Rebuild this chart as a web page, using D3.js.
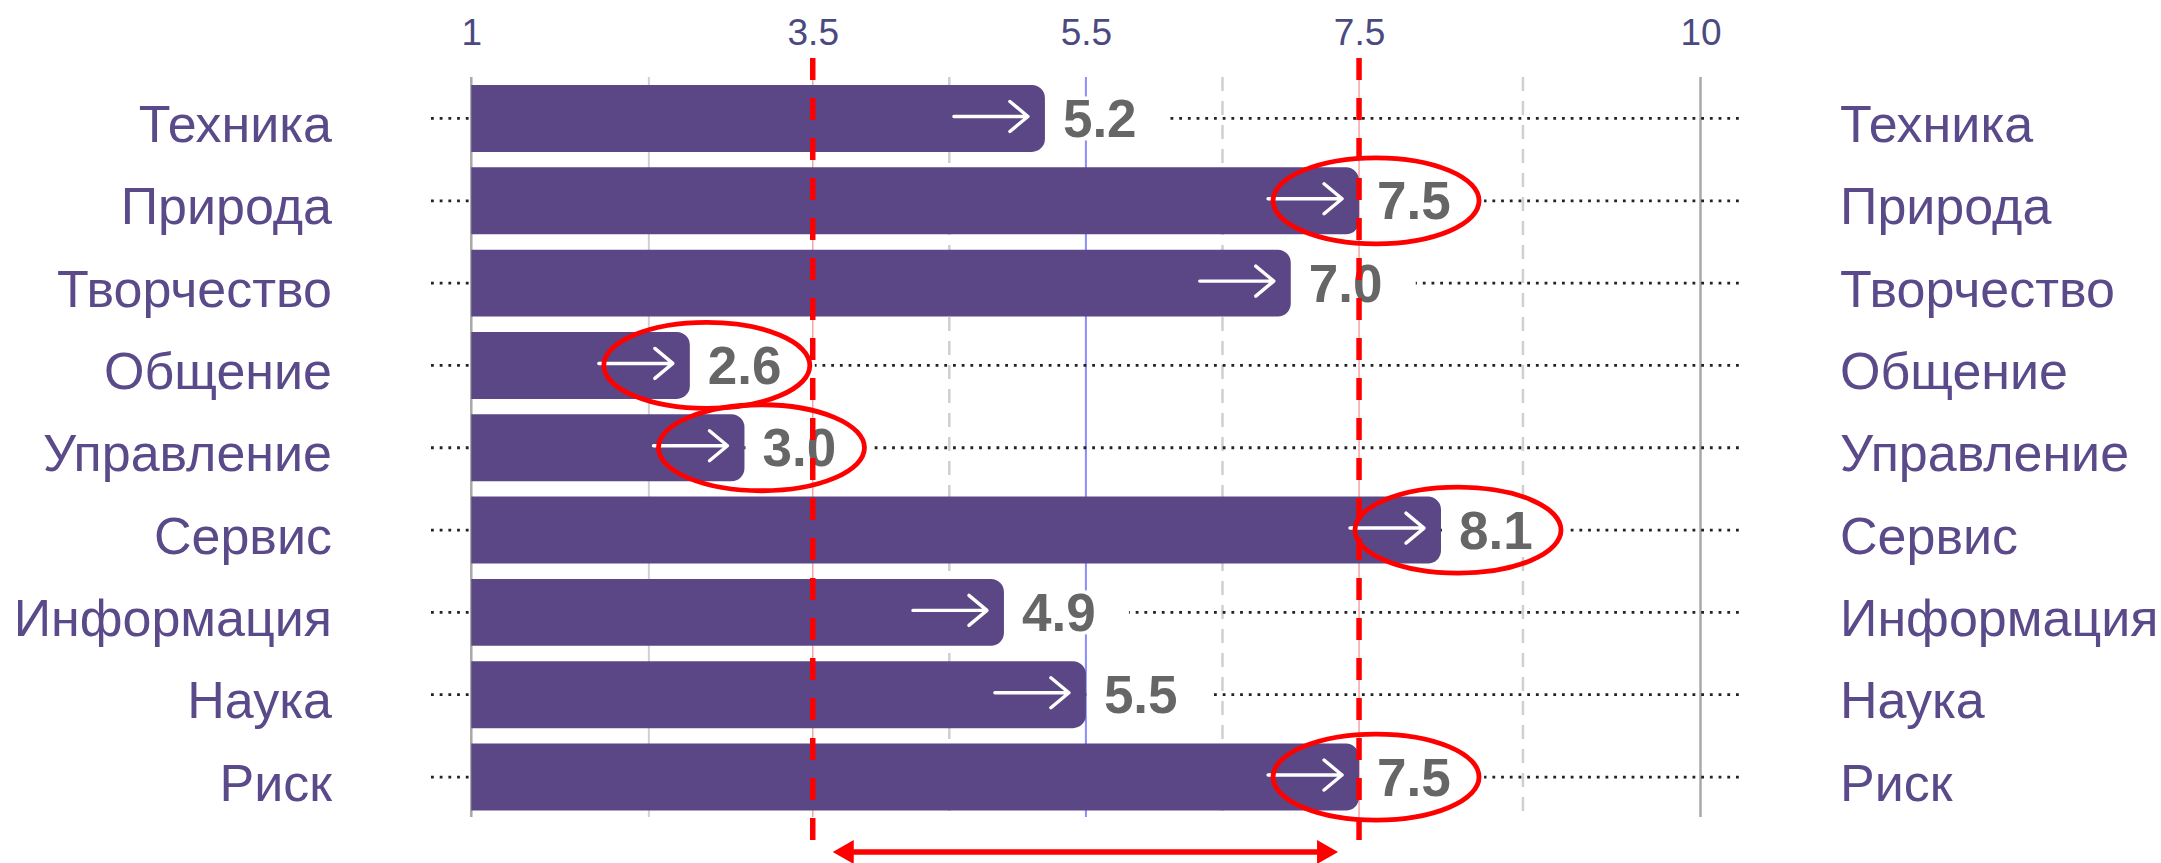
<!DOCTYPE html>
<html>
<head>
<meta charset="utf-8">
<script src="https://cdn.jsdelivr.net/npm/d3@7.9.0/dist/d3.min.js"></script>
<style>
  html, body { margin: 0; padding: 0; background: #fff; }
  svg { display: block; font-family: "Liberation Sans", Arial, sans-serif; }
</style>
</head>
<body>
<svg id="chart" width="2161" height="863"></svg>
<script>
// ── Data ────────────────────────────────────────────────────────────────
const categories = ['Техника', 'Природа', 'Творчество', 'Общение', 'Управление',
                    'Сервис', 'Информация', 'Наука', 'Риск'];
const values = [5.2, 7.5, 7.0, 2.6, 3.0, 8.1, 4.9, 5.5, 7.5];

const tickValues = [1, 3.5, 5.5, 7.5, 10];
const frameLines = [1, 10];          // solid darker grey
const softLines = [2.3];             // solid light grey
const dashedLines = [4.5, 6.5, 8.7]; // dashed light grey
const meanLine = [5.5];              // blue
const normRange = [3.5, 7.5];        // red dashed annotation

// ── Layout ──────────────────────────────────────────────────────────────
const svg = d3.select('#chart');
const x = d3.scaleLinear().domain([1, 10]).range([471.3, 1700.5]);
const y = d3.scaleBand()
  .domain(categories)
  .range([77.3, 818.2])
  .paddingInner(0.187)
  .paddingOuter(0.0935);

const gridTop = 77, gridBottom = 817;
const barColor = '#5c4786';
const labelColor = '#5a4a8a';

// ── Grid lines ──────────────────────────────────────────────────────────
const grid = svg.append('g');
function vlines(vals, stroke, width, dash) {
  grid.selectAll(null)
    .data(vals)
    .join('line')
    .attr('x1', d => x(d)).attr('x2', d => x(d))
    .attr('y1', gridTop).attr('y2', gridBottom)
    .attr('stroke', stroke)
    .attr('stroke-width', width)
    .attr('stroke-dasharray', dash || null);
}
vlines(softLines, '#d0d0d0', 2);
vlines(dashedLines, '#cfcfcf', 2.5, '14,10');
vlines(frameLines, '#a8a8a8', 2.5);
vlines(meanLine, '#8c8cff', 2);
vlines(normRange, '#f5a3a3', 1.5);

// tick labels on top
const axis = d3.axisTop(x).tickValues(tickValues).tickSize(0).tickPadding(0)
  .tickFormat(d3.format(''));
svg.append('g')
  .attr('transform', 'translate(0,45)')
  .call(axis)
  .call(g => g.select('.domain').remove())
  .call(g => g.selectAll('text')
    .attr('font-size', 37)
    .attr('font-family', '"Liberation Sans", Arial, sans-serif')
    .attr('fill', '#4a4a80'));

// ── Rows ────────────────────────────────────────────────────────────────
const rows = svg.append('g')
  .selectAll('g')
  .data(categories.map((c, i) => ({ cat: c, value: values[i] })))
  .join('g');

const cy = d => y(d.cat) + y.bandwidth() / 2;

// dotted guide line
rows.append('line')
  .attr('x1', 431).attr('x2', 1741)
  .attr('y1', cy).attr('y2', cy)
  .attr('stroke', '#222')
  .attr('stroke-width', 2.8)
  .attr('stroke-dasharray', '2.8,5.9');

// bar with rounded right end
const r = 13;
rows.append('path')
  .attr('fill', barColor)
  .attr('d', d => {
    const x0 = x(1), x1 = x(d.value), y0 = y(d.cat), h = y.bandwidth();
    return `M${x0},${y0}H${x1 - r}A${r},${r} 0 0 1 ${x1},${y0 + r}` +
           `V${y0 + h - r}A${r},${r} 0 0 1 ${x1 - r},${y0 + h}H${x0}Z`;
  });

// white arrow inside the bar
rows.append('path')
  .attr('fill', 'none')
  .attr('stroke', '#fff')
  .attr('stroke-width', 3.4)
  .attr('stroke-linecap', 'round')
  .attr('stroke-linejoin', 'round')
  .attr('d', d => {
    const tip = x(d.value) - 17, ay = cy(d) - 2;
    return `M${tip - 74},${ay}H${tip}M${tip - 18},${ay - 15}L${tip},${ay}L${tip - 18},${ay + 15}`;
  });

// value label with white backing
const fmt = d3.format('.1f');
rows.append('rect')
  .attr('x', d => x(d.value) + 1)
  .attr('y', d => cy(d) - 22)
  .attr('width', 124)
  .attr('height', 44)
  .attr('fill', '#fff');
rows.append('text')
  .attr('x', d => x(d.value) + 18)
  .attr('y', d => cy(d) + 18.5)
  .attr('font-size', 53)
  .attr('font-weight', 'bold')
  .attr('fill', '#666')
  .text(d => fmt(d.value));

// category labels on both sides
rows.append('text')
  .attr('x', 332)
  .attr('y', d => cy(d) + 23.5)
  .attr('text-anchor', 'end')
  .attr('font-size', 52)
  .attr('fill', labelColor)
  .text(d => d.cat);
rows.append('text')
  .attr('x', 1840)
  .attr('y', d => cy(d) + 23.5)
  .attr('font-size', 52)
  .attr('fill', labelColor)
  .text(d => d.cat);

// ── Red annotation ──────────────────────────────────────────────────────
const ann = svg.append('g');
ann.selectAll(null)
  .data(normRange)
  .join('line')
  .attr('x1', d => x(d)).attr('x2', d => x(d))
  .attr('y1', 58).attr('y2', 842)
  .attr('stroke', '#ff0000')
  .attr('stroke-width', 5.5)
  .attr('stroke-dasharray', '22,18');

// ellipses round the values that fall outside the norm range
const outside = rows.filter(d => d.value <= normRange[0] || d.value >= normRange[1]);
outside.append('ellipse')
  .attr('cx', d => x(d.value) + 17)
  .attr('cy', cy)
  .attr('rx', 103)
  .attr('ry', 43)
  .attr('fill', 'none')
  .attr('stroke', '#ff0000')
  .attr('stroke-width', 4.8);

// double-headed arrow below the range
const ax0 = x(normRange[0]) + 20, ax1 = x(normRange[1]) - 21, ay = 852;
ann.append('line')
  .attr('x1', ax0 + 15).attr('x2', ax1 - 15)
  .attr('y1', ay).attr('y2', ay)
  .attr('stroke', '#ff0000')
  .attr('stroke-width', 5.5);
ann.append('path')
  .attr('fill', '#ff0000')
  .attr('d', `M${ax0},${ay}L${ax0 + 21},${ay - 12}L${ax0 + 21},${ay + 12}Z` +
             `M${ax1},${ay}L${ax1 - 21},${ay - 12}L${ax1 - 21},${ay + 12}Z`);
</script>
</body>
</html>
